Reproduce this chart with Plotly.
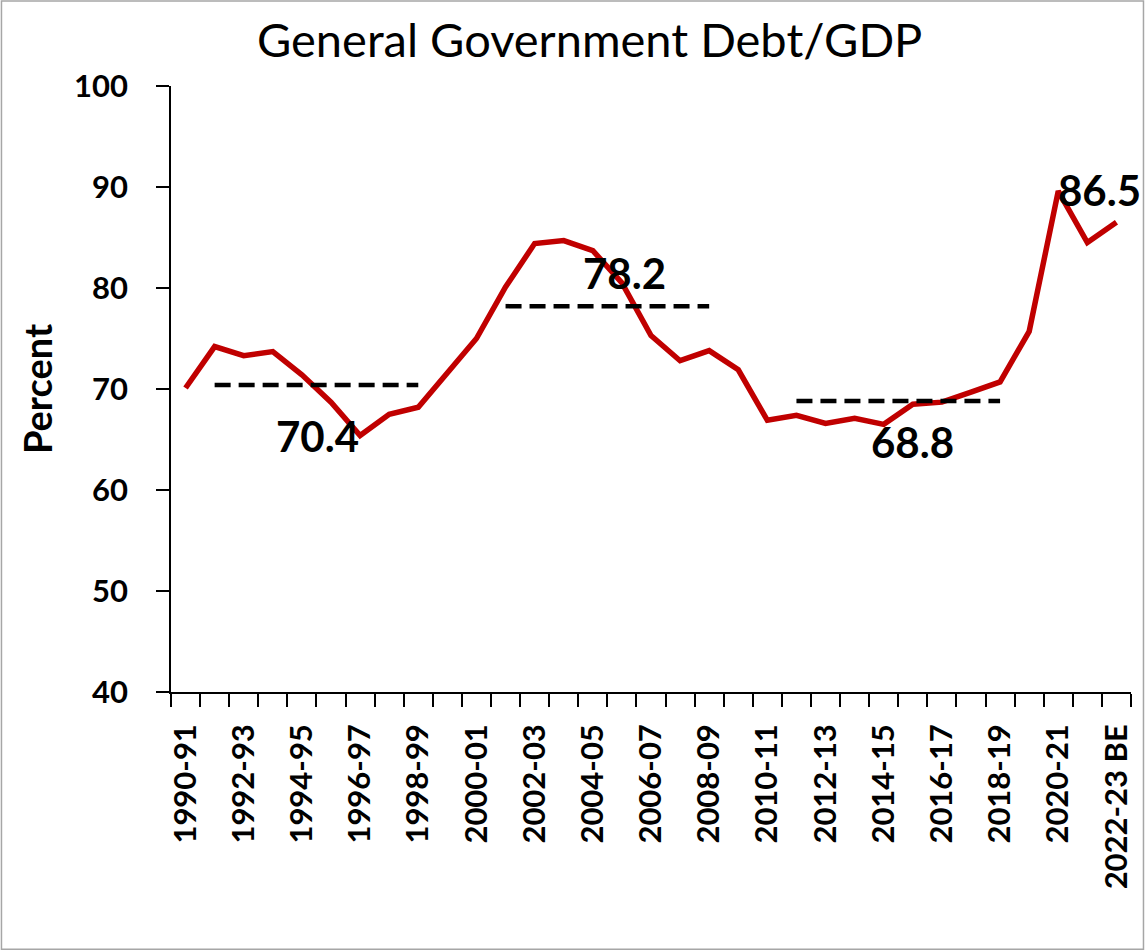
import plotly.graph_objects as go

# Fiscal years on the category axis
years = [
    "1990-91", "1991-92", "1992-93", "1993-94", "1994-95", "1995-96",
    "1996-97", "1997-98", "1998-99", "1999-00", "2000-01", "2001-02",
    "2002-03", "2003-04", "2004-05", "2005-06", "2006-07", "2007-08",
    "2008-09", "2009-10", "2010-11", "2011-12", "2012-13", "2013-14",
    "2014-15", "2015-16", "2016-17", "2017-18", "2018-19", "2019-20",
    "2020-21", "2021-22", "2022-23 BE",
]

# General government debt, percent of GDP
debt = [
    70.1, 74.2, 73.3, 73.7, 71.4, 68.7, 65.4, 67.5, 68.2, 71.7, 75.0,
    80.1, 84.4, 84.7, 83.7, 80.5, 75.3, 72.8, 73.8, 71.9, 66.9, 67.4,
    66.6, 67.1, 66.5, 68.5, 68.7, 69.7, 70.7, 75.7, 89.6, 84.5, 86.5,
]

# Period averages drawn as dashed reference lines
avg_values = [70.4, 78.2, 68.8]
avg_start = ["1991-92", "2001-02", "2011-12"]
avg_end = ["1998-99", "2008-09", "2018-19"]

# Tick labels: every other year is labelled
tick_text = [y if i % 2 == 0 else "" for i, y in enumerate(years)]

FONT = "Lato"
RED = "#C00000"

fig = go.Figure()

fig.add_trace(go.Scatter(
    x=years, y=debt, mode="lines",
    line=dict(color=RED, width=5.5),
    hoverinfo="x+y", showlegend=False,
))

for val, s, e in zip(avg_values, avg_start, avg_end):
    seg = years[years.index(s):years.index(e) + 1]
    fig.add_trace(go.Scatter(
        x=seg, y=[val] * len(seg), mode="lines",
        line=dict(color="black", width=4.5, dash="16px,8px"),
        hoverinfo="y", showlegend=False,
    ))

label_font = dict(family=FONT, size=42, color="black", weight="bold")

# Average labels placed around the middle of each dashed segment
avg_label_pos = [
    dict(x="1995-96", xshift=-14, yshift=-51),
    dict(x="2005-06", xshift=3, yshift=33),
    dict(x="2015-16", xshift=0, yshift=-41),
]
for val, pos in zip(avg_values, avg_label_pos):
    fig.add_annotation(
        x=pos["x"], y=val, text=f"{val:.1f}", showarrow=False,
        xshift=pos["xshift"], yshift=pos["yshift"], font=label_font,
    )

# Latest value label
fig.add_annotation(
    x=years[-1], y=debt[-1], text=f"{debt[-1]:.1f}", showarrow=False,
    xshift=-17, yshift=32, font=label_font,
)

# Outer chart border
fig.add_shape(
    type="rect", xref="paper", yref="paper",
    x0=-0.1766, x1=1.0130, y0=-0.4244, y1=1.1403,
    line=dict(color="#A6A6A6", width=1.5), fillcolor="rgba(0,0,0,0)",
    layer="below",
)

fig.update_layout(
    width=1145, height=951,
    margin=dict(l=171, r=14, t=86, b=259),
    paper_bgcolor="white", plot_bgcolor="white",
    title=dict(
        text="General Government Debt/GDP",
        font=dict(family=FONT, size=47, color="black"),
        x=0.515, xanchor="center", xref="container",
        y=0.957, yanchor="middle",
    ),
    font=dict(family=FONT, color="black"),
)

fig.update_xaxes(
    type="category", range=[-0.5, len(years) - 0.5],
    tickmode="array", tickvals=years, ticktext=tick_text,
    tickson="boundaries",
    ticks="outside", ticklen=13, tickwidth=1.5, tickcolor="black",
    tickangle=-90, ticklabelstandoff=18,
    tickfont=dict(family=FONT, size=31, color="black", weight="bold"),
    showline=True, linecolor="black", linewidth=1.5,
    showgrid=False, zeroline=False,
)

fig.update_yaxes(
    range=[40, 100], tickmode="linear", tick0=40, dtick=10,
    ticks="outside", ticklen=13, tickwidth=1.5, tickcolor="black",
    ticklabelstandoff=22,
    tickfont=dict(family=FONT, size=31, color="black", weight="bold"),
    showline=True, linecolor="black", linewidth=1.5,
    showgrid=False, zeroline=False,
    title=dict(text="Percent",
               font=dict(family=FONT, size=38, color="black", weight="bold"),
               standoff=10),
)

fig.write_html("out.html")
